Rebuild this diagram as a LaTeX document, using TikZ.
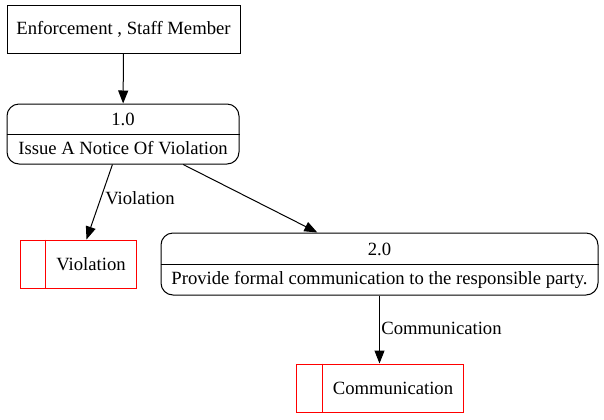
\documentclass[tikz,border=0pt]{standalone}
\usepackage{fontspec}
\setmainfont{Liberation Serif}
\newfontfamily\dfdfont{Liberation Serif}
\usetikzlibrary{arrows.meta}

\begin{document}
\begin{tikzpicture}[x=0.75pt, y=-0.75pt,
                    entity/.style={
                    draw,
                    line width=0.75pt,
                    minimum width=174.75pt,
                    minimum height=36pt,
                    anchor=center,
                    },
                    process/.style={
                    draw,
                    line width=0.75pt,
                    rounded corners=9pt,
                    anchor=center,
                    },
                    store/.style={
                    draw=red,
                    line width=0.75pt,
                    minimum height=36pt,
                    anchor=center,
                    },
                    txt/.style={
                    inner sep=0pt,
                    anchor=center,
                    },
                    flow/.style={
                    line width=0.75pt,
                    -{Triangle[length=9.75pt,width=7.5pt]},
                    },
                    lbl/.style={
                    anchor=west,
                    inner sep=3pt,
                    },
                    every node/.style={font=\dfdfont\fontsize{14}{16}\selectfont},
                    ]

\useasboundingbox (0,0) rectangle (604,419);

\draw
(123.5,29) node[entity] (staff) {Enforcement , Staff Member}
(123,134) node[process, minimum width=174pt, minimum height=45pt] (p1) {}
(123,119) node[txt] (p1num) {1.0}
(123,148) node[txt] (p1name) {Issue A Notice Of Violation}
(379.5,264) node[process, minimum width=327.75pt, minimum height=46.5pt] (p2) {}
(379.5,249) node[txt] (p2num) {2.0}
(379.5,280) node[txt] (p2name) {Provide formal communication to the responsible party.}
(78,264) node[store, minimum width=87pt] (viol) {}
(91,264) node[txt] (violtxt) {Violation}
(379.5,388) node[store, minimum width=125.25pt] (comm) {}
(393,388) node[txt] (commtxt) {Communication}
(viol.north west) ++(26,0) coordinate (viol_top)
(viol.south west) ++(26,0) coordinate (viol_bot)
(comm.north west) ++(27,0) coordinate (comm_top)
(comm.south west) ++(27,0) coordinate (comm_bot)
;

% dividers
\draw[line width=0.75pt] (p1.west) -- (p1.east);
\draw[line width=0.75pt] (p2.west) -- (p2.east);
\draw[red, line width=0.75pt] (viol_top) -- (viol_bot);
\draw[red, line width=0.75pt] (comm_top) -- (comm_bot);

% flows
\draw[flow] (staff) -- (p1);
\draw[flow] (p1) -- node[lbl, pos=0.45] {Violation} (viol);
\draw[flow] (p1) -- (p2);
\draw[flow] (p2) -- node[lbl, pos=0.48, inner sep=1pt] {Communication} (comm);

\end{tikzpicture}
\end{document}
